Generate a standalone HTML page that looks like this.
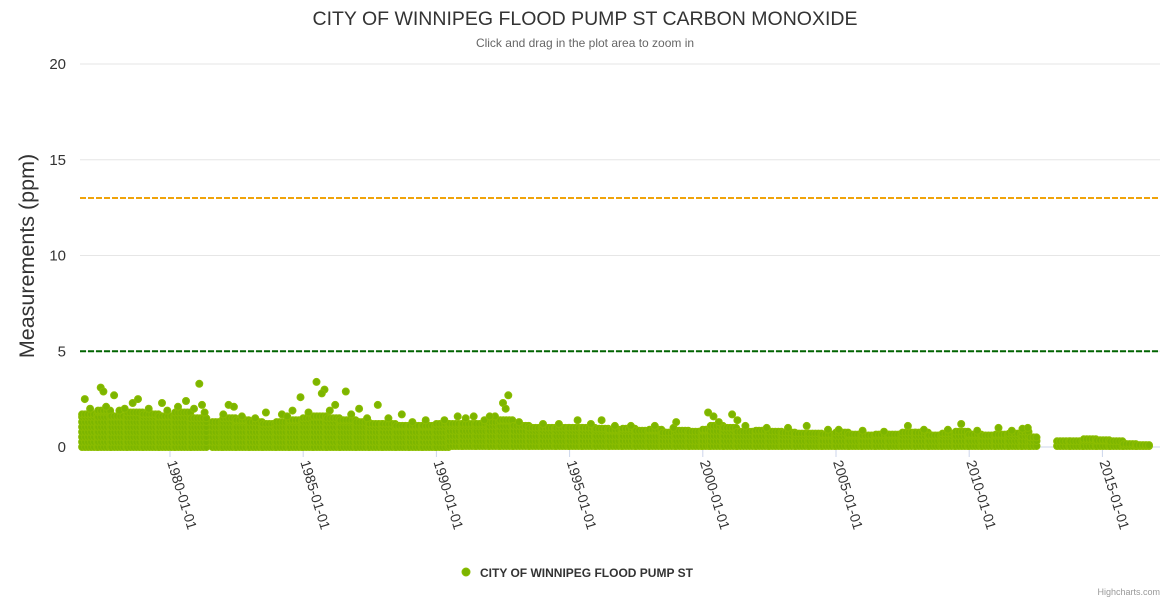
<!DOCTYPE html>
<html><head><meta charset="utf-8"><style>
body{margin:0;background:#fff;}
svg{display:block;font-family:"Liberation Sans",sans-serif;}
</style></head><body>
<svg id="chart" width="1170" height="600">
<text x="585" y="25" text-anchor="middle" font-size="19.5" fill="#333">CITY OF WINNIPEG FLOOD PUMP ST CARBON MONOXIDE</text>
<text x="585" y="47" text-anchor="middle" font-size="12" fill="#666">Click and drag in the plot area to zoom in</text>
<text transform="translate(34,256) rotate(-90)" text-anchor="middle" font-size="21.5" fill="#333">Measurements (ppm)</text>
<g id="grid"></g><g id="ylabels"></g><g id="xaxis"></g><g id="plot"></g><g id="refs"></g>
<g>
<circle cx="466" cy="572" r="4" fill="#7cb500" stroke="#8bbd00" stroke-width="1"/>
<text x="480" y="577" font-size="12" font-weight="bold" fill="#333">CITY OF WINNIPEG FLOOD PUMP ST</text>
</g>
<text x="1160" y="595" text-anchor="end" font-size="9" fill="#999">Highcharts.com</text>
</svg>
<script>
const yTicks=[0,5,10,15,20];
const xTickYears=[1980,1985,1990,1995,2000,2005,2010,2015];
const xTickLabels=["1980-01-01","1985-01-01","1990-01-01","1995-01-01","2000-01-01","2005-01-01","2010-01-01","2015-01-01"];
const segStart=[1976.7,1977.3,1977.8,1978.4,1979.0,1979.6,1980.2,1980.8,1981.6,1982.0,1982.5,1983.0,1983.5,1984.0,1984.5,1985.0,1985.4,1985.9,1986.4,1987.0,1987.5,1988.0,1988.5,1989.0,1989.5,1990.0,1990.5,1991.0,1991.5,1992.0,1992.4,1992.9,1993.5,1994.0,1994.5,1995.0,1995.5,1996.0,1996.5,1997.0,1997.5,1998.0,1998.5,1999.0,1999.5,2000.0,2000.3,2000.8,2001.3,2002.0,2002.5,2003.0,2003.5,2004.0,2004.5,2005.0,2005.5,2006.0,2006.5,2007.0,2007.5,2008.0,2008.5,2009.0,2009.5,2010.0,2010.5,2011.0,2011.5,2012.0,2012.3,2013.3,2013.8,2014.3,2014.8,2015.3,2015.8,2016.3];
const segEnd=  [1977.3,1977.8,1978.4,1979.0,1979.6,1980.2,1980.8,1981.4,1982.0,1982.5,1983.0,1983.5,1984.0,1984.5,1985.0,1985.4,1985.9,1986.4,1987.0,1987.5,1988.0,1988.5,1989.0,1989.5,1990.0,1990.5,1991.0,1991.5,1992.0,1992.4,1992.9,1993.5,1994.0,1994.5,1995.0,1995.5,1996.0,1996.5,1997.0,1997.5,1998.0,1998.5,1999.0,1999.5,2000.0,2000.3,2000.8,2001.3,2002.0,2002.5,2003.0,2003.5,2004.0,2004.5,2005.0,2005.5,2006.0,2006.5,2007.0,2007.5,2008.0,2008.5,2009.0,2009.5,2010.0,2010.5,2011.0,2011.5,2012.0,2012.3,2012.6,2013.8,2014.3,2014.8,2015.3,2015.8,2016.3,2016.8];
const segMax=[1.7,1.9,1.6,1.8,1.7,1.6,1.8,1.5,1.3,1.5,1.4,1.3,1.2,1.3,1.4,1.5,1.6,1.5,1.4,1.3,1.2,1.2,1.1,1.1,1.1,1.2,1.2,1.2,1.2,1.3,1.4,1.1,1.0,1.0,1.0,1.0,1.0,0.95,0.9,0.95,0.85,0.9,0.75,0.85,0.8,0.9,1.1,1.0,0.8,0.85,0.8,0.75,0.7,0.7,0.65,0.75,0.65,0.6,0.65,0.65,0.75,0.75,0.6,0.7,0.8,0.65,0.6,0.65,0.7,0.8,0.5,0.3,0.3,0.4,0.35,0.3,0.15,0.1];
const segMin=[0,0,0,0,0,0,0,0,0,0,0,0,0,0,0,0,0,0,0,0,0,0,0,0,0,0,0.05,0.05,0.05,0.05,0.05,0.05,0.05,0.05,0.05,0.05,0.05,0.05,0.05,0.05,0.05,0.05,0.05,0.05,0.05,0.05,0.05,0.05,0.05,0.05,0.05,0.05,0.05,0.05,0.05,0.05,0.05,0.05,0.05,0.05,0.05,0.05,0.05,0.05,0.05,0.05,0.05,0.05,0.05,0.05,0.05,0.05,0.05,0.05,0.05,0.05,0.05,0.05];
const spikeYears=[1976.8,1977.4,1977.5,1977.9,1978.6,1978.8,1979.7,1980.6,1981.1,1981.2,1982.2,1982.4,1983.6,1984.6,1984.9,1985.5,1985.8,1985.7,1986.2,1986.6,1987.1,1987.8,1988.7,1990.8,1991.4,1992.0,1992.5,1992.7,1992.6,1995.3,1996.2,1999.0,2000.2,2000.4,2001.1,2001.3,2003.9,2005.1,2007.7,2009.7,2011.1,2012.2];
const spikeValues=[2.5,3.1,2.9,2.7,2.3,2.5,2.3,2.4,3.3,2.2,2.2,2.1,1.8,1.9,2.6,3.4,3.0,2.8,2.2,2.9,2.0,2.2,1.7,1.6,1.6,1.6,2.3,2.7,2.0,1.4,1.4,1.3,1.8,1.6,1.7,1.4,1.1,0.9,1.1,1.2,1.0,1.0];
const midYears=[1977.0,1977.6,1978.1,1978.3,1979.2,1979.9,1980.3,1980.9,1981.3,1982.0,1982.7,1983.2,1984.2,1984.4,1985.2,1986.0,1986.8,1987.4,1988.2,1989.1,1989.6,1990.3,1991.1,1991.8,1992.2,1993.1,1994.0,1994.6,1995.8,1996.7,1997.3,1998.2,1998.9,2000.6,2001.6,2002.4,2003.2,2004.7,2006.0,2006.8,2008.3,2009.2,2010.3,2011.6,2012.0];
const midValues=[2.0,2.1,1.9,2.0,2.0,1.9,2.1,2.0,1.8,1.7,1.6,1.5,1.7,1.6,1.8,1.9,1.7,1.5,1.5,1.3,1.4,1.4,1.5,1.4,1.6,1.3,1.2,1.2,1.2,1.1,1.1,1.1,1.0,1.3,1.1,1.0,1.0,0.9,0.85,0.8,0.9,0.9,0.85,0.85,0.95];
const refValues=[13,5];
const refColors=["#f0a30a","#006400"];
const NS="http://www.w3.org/2000/svg";
const X0=80,X1=1160;
function xs(yr){return 170+(yr-1980)*26.64;}
function ys(v){return 447-v*19.15;}
function mk(tag,at,parent){const e=document.createElementNS(NS,tag);for(const k in at)e.setAttribute(k,at[k]);parent.appendChild(e);return e;}
const grid=document.getElementById('grid'),yl=document.getElementById('ylabels'),xa=document.getElementById('xaxis'),plot=document.getElementById('plot'),refs=document.getElementById('refs');
yTicks.forEach(v=>{
  const l=mk('line',{x1:X0,x2:X1,y1:ys(v),y2:ys(v),stroke:v===0?'#ccd6eb':'#e6e6e6','stroke-width':1},grid);
  
  
  const t=mk('text',{x:66,y:ys(v)+5,'text-anchor':'end','font-size':15,fill:'#333'},yl);
  t.textContent=v;
  
  
});
xTickYears.forEach((yr,i)=>{
  const x=xs(yr);
  const tk=mk('line',{x1:x,x2:x,y1:447,y2:457,stroke:'#ccd6eb'},xa);
  
  
  const t=mk('text',{x:0,y:0,'font-size':14,fill:'#333',transform:`translate(${x-3},${462}) rotate(73)`},xa);
  t.textContent=xTickLabels[i];
  
  
});
function pt(x,y){
  const c=mk('circle',{cx:x.toFixed(1),cy:y.toFixed(1),r:3.5,fill:'#7cb500',stroke:'#8bbd00','stroke-width':1},plot);
  
  
}
segStart.forEach((s,i)=>{
  const a=xs(s),b=xs(segEnd[i]);
  for(let x=a;x<=b;x+=3){
    const top=ys(segMax[i]),bot=ys(segMin[i]);
    for(let y=bot;y>=top-0.1;y-=5) pt(x,y);
    pt(x,top);
  }
});
midYears.forEach((yr,i)=>{
  pt(xs(yr),ys(midValues[i]));
});
spikeYears.forEach((yr,i)=>{
  pt(xs(yr),ys(spikeValues[i]));
});
refValues.forEach((v,i)=>{
  const l=mk('line',{x1:X0,x2:X1,y1:ys(v),y2:ys(v),stroke:refColors[i],'stroke-width':2,'stroke-dasharray':'6,2'},refs);
  
  
});
</script>
</body></html>
